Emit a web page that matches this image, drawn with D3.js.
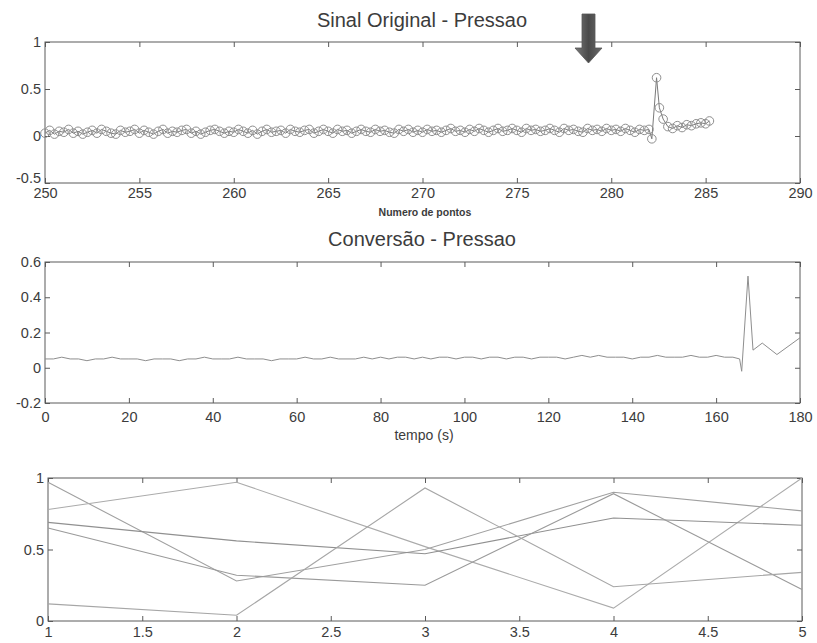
<!DOCTYPE html>
<html><head><meta charset="utf-8">
<script src="https://cdn.jsdelivr.net/npm/d3@7"></script>
<style>
body{margin:0;background:#fff;}
svg text{font-family:"Liberation Sans",Arial,Helvetica,sans-serif;fill:#3c3c3c;}
</style></head><body>
<svg id="c" width="817" height="643"></svg>
<script>
// ---------- DATA ----------
// Panel 1: Sinal Original - Pressao
const sinalTicksX = [250,255,260,265,270,275,280,285,290];
const sinalTicksY = [-0.5,0,0.5,1];
const sinalStart = 250, sinalStep = 0.25;
const sinalValues = [
0.03,0.06,0.02,0.05,0.04,0.07,0.03,0.05,0.02,0.04,
0.06,0.03,0.07,0.05,0.03,0.02,0.06,0.04,0.05,0.07,
0.03,0.06,0.04,0.02,0.05,0.07,0.03,0.05,0.04,0.06,
0.07,0.03,0.05,0.02,0.04,0.06,0.07,0.05,0.03,0.05,
0.04,0.07,0.05,0.03,0.06,0.02,0.05,0.07,0.04,0.05,
0.06,0.03,0.07,0.05,0.04,0.06,0.07,0.03,0.05,0.07,
0.05,0.03,0.07,0.05,0.06,0.03,0.05,0.07,0.05,0.04,
0.07,0.05,0.06,0.04,0.03,0.07,0.05,0.07,0.04,0.06,
0.04,0.07,0.05,0.06,0.04,0.06,0.08,0.05,0.06,0.04,
0.07,0.05,0.08,0.06,0.04,0.06,0.08,0.05,0.06,0.08,
0.06,0.04,0.08,0.06,0.07,0.05,0.06,0.08,0.06,0.04,
0.08,0.06,0.07,0.05,0.04,0.08,0.06,0.07,0.05,0.08,
0.06,0.07,0.05,0.08,0.06,0.04,0.07,0.06,0.07];
const sinalTailX = [282.15,282.4,282.55,282.75,283.0,283.25,283.5,283.75,284.0,284.25,284.5,284.75,285.0,285.2];
const sinalTailY = [-0.03,0.62,0.30,0.18,0.10,0.08,0.11,0.09,0.12,0.11,0.13,0.14,0.13,0.16];

// Panel 2: Conversão - Pressao
const convTicksX = [0,20,40,60,80,100,120,140,160,180];
const convTicksY = [-0.2,0,0.2,0.4,0.6];
const tempo = [0,2,4,6,8,10,12,14,16,18,20,22,24,26,28,30,32,34,36,38,40,42,44,46,48,50,52,54,56,58,60,62,64,66,68,70,72,74,76,78,80,82,84,86,88,90,92,94,96,98,100,102,104,106,108,110,112,114,116,118,120,122,124,126,128,130,132,134,136,138,140,142,144,146,148,150,152,154,156,158,160,162,164,165.6,166.1,167.6,168.8,171,174.5,180];
const conversao = [
0.05,0.05,0.06,0.05,0.05,0.04,0.05,0.05,0.06,0.05,
0.05,0.05,0.04,0.05,0.05,0.05,0.04,0.05,0.05,0.06,
0.05,0.05,0.05,0.06,0.05,0.05,0.05,0.04,0.05,0.05,
0.05,0.06,0.05,0.05,0.06,0.05,0.05,0.05,0.06,0.05,
0.06,0.05,0.06,0.06,0.05,0.06,0.05,0.06,0.06,0.05,
0.06,0.06,0.05,0.06,0.06,0.05,0.06,0.06,0.05,0.06,
0.06,0.06,0.05,0.06,0.07,0.06,0.07,0.06,0.06,0.06,
0.05,0.06,0.06,0.07,0.06,0.06,0.06,0.07,0.06,0.06,
0.07,0.06,0.06,
0.05,-0.02,0.52,0.10,0.14,0.075,0.17];

// Panel 3: linhas
const linhasX = [1,2,3,4,5];
const linha1 = [0.97,0.28,0.50,0.90,0.77];
const linha2 = [0.78,0.97,0.52,0.09,1.00];
const linha3 = [0.69,0.56,0.47,0.72,0.67];
const linha4 = [0.65,0.32,0.25,0.89,0.22];
const linha5 = [0.12,0.04,0.93,0.24,0.34];
const linhas = [linha1,linha2,linha3,linha4,linha5];
const linhasCores = ["#a0a0a0","#ababab","#909090","#9a9a9a","#a6a6a6"];
const linhasTicksX = [1,1.5,2,2.5,3,3.5,4,4.5,5];
const linhasTicksY = [0,0.5,1];

// ---------- DRAW ----------
const svg = d3.select("#c");
const fmt = d => String(d);
const axisColor = "#5a5a5a";

function panel(o){
  const x = d3.scaleLinear().domain(o.xDom).range([o.left,o.right]);
  const y = d3.scaleLinear().domain(o.yDom).range([o.bottom,o.top]);
  const g = svg.append("g");
  const style = sel => {
    sel.select(".domain").remove();
    sel.selectAll(".tick line").attr("stroke",axisColor);
    sel.selectAll(".tick text").style("font-size","14.5px").attr("fill","#454545");
  };
  g.append("g").attr("class","xb").attr("transform",`translate(0,${o.bottom})`)
    .call(d3.axisBottom(x).tickValues(o.xTicks).tickSize(-5).tickPadding(o.xPad).tickFormat(fmt)).call(style);
  g.append("g").attr("transform",`translate(0,${o.top})`)
    .call(d3.axisTop(x).tickValues(o.xTicks).tickSize(-5).tickFormat("")).call(style);
  g.append("g").attr("class","yl").attr("transform",`translate(${o.left},0)`)
    .call(d3.axisLeft(y).tickValues(o.yTicks).tickSize(-5).tickPadding(o.yPad).tickFormat(fmt)).call(style);
  g.append("g").attr("transform",`translate(${o.right},0)`)
    .call(d3.axisRight(y).tickValues(o.yTicks).tickSize(-5).tickFormat("")).call(style);
  g.append("rect").attr("x",o.left).attr("y",o.top).attr("width",o.right-o.left).attr("height",o.bottom-o.top)
    .attr("fill","none").attr("stroke",axisColor).attr("stroke-width",1);
  return {x,y,g};
}

// Panel 1
const p1 = panel({left:45,right:800,top:42,bottom:183,xDom:[250,290],yDom:[-0.5,1],
  xTicks:sinalTicksX,yTicks:sinalTicksY,xPad:5,yPad:4});
// lift the lowest y label slightly so it does not collide with the first x label
p1.g.selectAll(".yl .tick").filter(d=>d===-0.5).select("text").attr("dy","-0.05em");
const sinalPts = sinalValues.map((v,i)=>[sinalStart+i*sinalStep,v])
  .concat(sinalTailX.map((xv,i)=>[xv,sinalTailY[i]]));
p1.g.append("path").datum(sinalPts)
  .attr("d",d3.line().x(d=>p1.x(d[0])).y(d=>p1.y(d[1])))
  .attr("fill","none").attr("stroke","#7a7a7a").attr("stroke-width",1);
p1.g.selectAll("circle.m").data(sinalPts).join("circle")
  .attr("cx",d=>p1.x(d[0])).attr("cy",d=>p1.y(d[1])).attr("r",4.3)
  .attr("fill","none").attr("stroke","#8e8e8e").attr("stroke-width",1);
svg.append("text").attr("x",422).attr("y",27).attr("text-anchor","middle")
  .style("font-size","20px").text("Sinal Original - Pressao");
svg.append("text").attr("x",425).attr("y",216).attr("text-anchor","middle")
  .style("font-size","10.5px").style("font-weight","bold").text("Numero de pontos");

// arrow annotation
const grad = svg.append("defs").append("linearGradient").attr("id","ag").attr("x1","0").attr("x2","1");
grad.append("stop").attr("offset","0").attr("stop-color","#7a7a7a");
grad.append("stop").attr("offset","0.5").attr("stop-color","#4a4a4a");
grad.append("stop").attr("offset","1").attr("stop-color","#6a6a6a");
svg.append("path").attr("d","M582,14 L595,14 L595,48 L602,48 L588.5,63 L575,48 L582,48 Z")
  .attr("fill","url(#ag)").attr("stroke","#555").attr("stroke-width",0.8);

// Panel 2
const p2 = panel({left:45,right:800,top:262,bottom:403,xDom:[0,180],yDom:[-0.2,0.6],
  xTicks:convTicksX,yTicks:convTicksY,xPad:9,yPad:4});
p2.g.append("path").datum(tempo.map((t,i)=>[t,conversao[i]]))
  .attr("d",d3.line().x(d=>p2.x(d[0])).y(d=>p2.y(d[1])))
  .attr("fill","none").attr("stroke","#8e8e8e").attr("stroke-width",1);
svg.append("text").attr("x",422).attr("y",246).attr("text-anchor","middle")
  .style("font-size","20px").text("Conversão - Pressao");
svg.append("text").attr("x",424).attr("y",440).attr("text-anchor","middle")
  .style("font-size","14px").text("tempo (s)");

// Panel 3
const p3 = panel({left:48,right:802,top:478,bottom:621,xDom:[1,5],yDom:[0,1],
  xTicks:linhasTicksX,yTicks:linhasTicksY,xPad:6,yPad:4});
linhas.forEach((l,k)=>{
  p3.g.append("path").datum(linhasX.map((xv,i)=>[xv,l[i]]))
    .attr("d",d3.line().x(d=>p3.x(d[0])).y(d=>p3.y(d[1])))
    .attr("fill","none").attr("stroke",linhasCores[k]).attr("stroke-width",1.1);
});
</script>
</body></html>
